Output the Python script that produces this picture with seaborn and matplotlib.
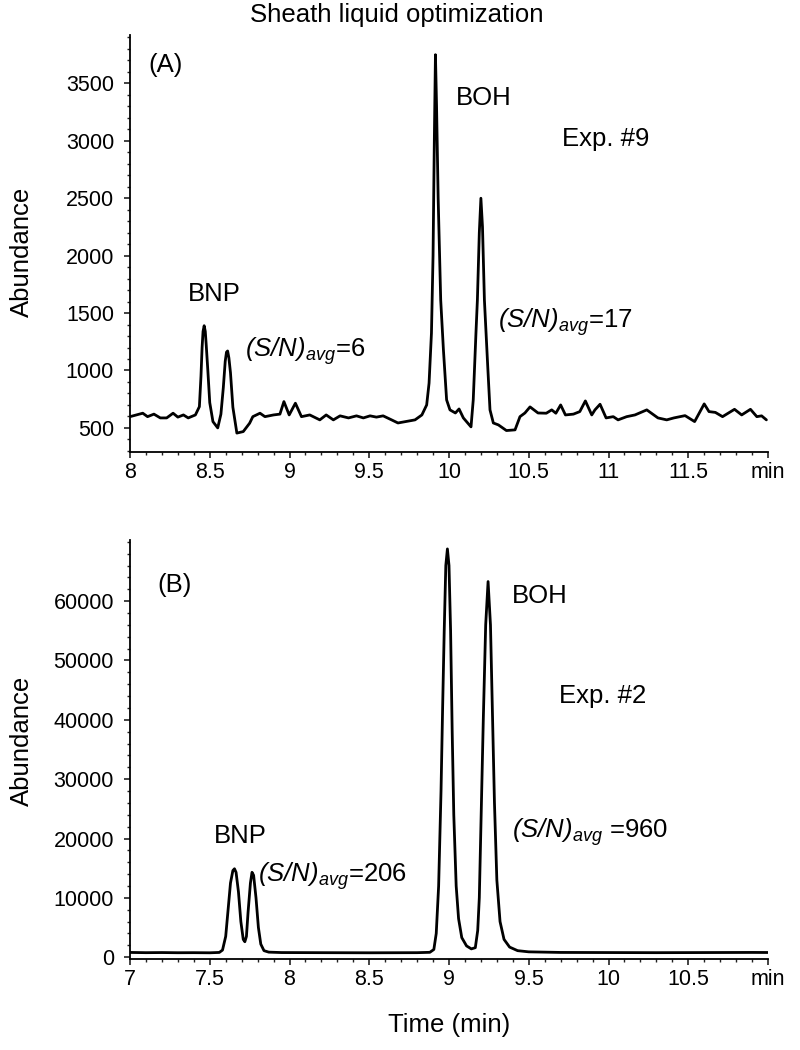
import matplotlib
matplotlib.use("Agg")
import matplotlib.pyplot as plt
import seaborn as sns
import pandas as pd
from matplotlib.ticker import MultipleLocator, FixedLocator, FixedFormatter

# ---- data ----
# (A) Exp. #9
time_a = [
    8.00, 8.04, 8.08, 8.11, 8.15, 8.19, 8.23, 8.27, 8.30, 8.335, 8.365, 8.41,
    8.435, 8.445, 8.452, 8.458, 8.465, 8.472, 8.478, 8.488, 8.50, 8.52, 8.55,
    8.57, 8.585, 8.597, 8.605, 8.612, 8.62, 8.63, 8.645, 8.67, 8.71, 8.75,
    8.77, 8.815, 8.846, 8.90, 8.94, 8.965, 8.998, 9.037, 9.075, 9.127, 9.19,
    9.23, 9.275, 9.317, 9.37, 9.42, 9.463, 9.505, 9.545, 9.587, 9.64, 9.68,
    9.787, 9.83, 9.86, 9.875, 9.89, 9.90, 9.908, 9.915, 9.922, 9.932, 9.948,
    9.965, 9.985, 10.006, 10.04, 10.063, 10.09, 10.138, 10.152, 10.169,
    10.178, 10.19, 10.20, 10.21, 10.222, 10.243, 10.257, 10.278, 10.31,
    10.36, 10.414, 10.445, 10.476, 10.508, 10.558, 10.61, 10.644, 10.67,
    10.70, 10.73, 10.78, 10.82, 10.855, 10.895, 10.915, 10.947, 10.985,
    11.03, 11.06, 11.114, 11.166, 11.24, 11.31, 11.365, 11.41, 11.48, 11.54,
    11.60, 11.63, 11.67, 11.715, 11.79, 11.835, 11.89, 11.93, 11.96, 11.99,
]
abund_a = [
    598, 613, 628, 598, 620, 587, 587, 628, 594, 613, 587, 613,
    685, 950, 1200, 1340, 1390, 1340, 1220, 1000, 720, 555, 500,
    620, 850, 1080, 1160, 1170, 1110, 980, 680, 455, 468, 541,
    598, 628, 598, 613, 620, 729, 613, 715, 598, 613, 570,
    613, 570, 605, 587, 605, 587, 605, 594, 605, 570, 543,
    570, 613, 700, 890, 1326, 2000, 3000, 3750, 3300, 2500, 1614,
    1180, 744, 657, 630, 665, 587, 509, 744, 1326,
    1614, 2200, 2500, 2250, 1614, 1031, 657, 543, 526,
    477, 483, 598, 630, 683, 630, 628, 657, 628,
    700, 613, 620, 642, 735, 613, 657, 706, 587,
    598, 570, 598, 613, 657, 587, 570, 587, 607, 555,
    709, 642, 635, 598, 662, 613, 662, 598, 605, 570,
]

# (B) Exp. #2
time_b = [
    7.00, 7.10, 7.20, 7.30, 7.40, 7.50, 7.56, 7.58, 7.60, 7.615, 7.63, 7.645,
    7.655, 7.665, 7.68, 7.695, 7.71, 7.72, 7.73, 7.74, 7.755, 7.765, 7.775,
    7.79, 7.805, 7.82, 7.84, 7.87, 7.95, 8.20, 8.50, 8.80, 8.88, 8.905,
    8.92, 8.935, 8.95, 8.96, 8.97, 8.98, 8.99, 9.00, 9.01, 9.02, 9.03,
    9.045, 9.06, 9.08, 9.11, 9.14, 9.165, 9.18, 9.19, 9.20, 9.215, 9.23,
    9.245, 9.26, 9.275, 9.285, 9.30, 9.32, 9.345, 9.38, 9.43, 9.50, 9.70,
    10.00, 10.30, 10.60, 10.90, 11.00,
]
abund_b = [
    800, 760, 780, 750, 760, 740, 800, 1200, 3500, 8000, 12500, 14600,
    14900, 14300, 11000, 6000, 3000, 2600, 3500, 7500, 12500, 14300, 13800,
    10000, 5000, 2200, 1100, 850, 780, 760, 740, 760, 820, 1300,
    4000, 12000, 28000, 42000, 55000, 66000, 68800, 66000, 55000, 38000, 24000,
    12000, 6500, 3300, 1900, 1400, 1600, 4500, 10000, 22000, 40000, 56000,
    63300, 56000, 38000, 26000, 13000, 6000, 3000, 1700, 1100, 900, 800,
    780, 760, 780, 800, 790,
]

# tick labels (last position carries the unit)
xticks_a = [8, 8.5, 9, 9.5, 10, 10.5, 11, 11.5, 12]
xlabels_a = ["8", "8.5", "9", "9.5", "10", "10.5", "11", "11.5", "min"]
yticks_a = [500, 1000, 1500, 2000, 2500, 3000, 3500]
xticks_b = [7, 7.5, 8, 8.5, 9, 9.5, 10, 10.5, 11]
xlabels_b = ["7", "7.5", "8", "8.5", "9", "9.5", "10", "10.5", "min"]
yticks_b = [0, 10000, 20000, 30000, 40000, 50000, 60000]

sns.set_style("ticks")
plt.rcParams["font.family"] = ["Liberation Sans", "DejaVu Sans"]
# math text is only used for the italic (S/N)_avg labels
plt.rcParams["mathtext.fontset"] = "custom"
plt.rcParams["mathtext.rm"] = "Liberation Sans:italic"
plt.rcParams["mathtext.it"] = "Liberation Sans:italic"
plt.rcParams["mathtext.sf"] = "Liberation Sans:italic"
for key in ("text.color", "axes.labelcolor", "xtick.color", "ytick.color",
            "axes.edgecolor"):
    plt.rcParams[key] = "black"

LABEL_FS = 18.5
TICK_FS = 15.5
SN = r"$(S/N)_{avg}$"

fig = plt.figure(figsize=(8, 10.5), dpi=100)
ax_a = fig.add_axes([0.1625, 0.5695, 0.7975, 0.397])
ax_b = fig.add_axes([0.1625, 0.0867, 0.7975, 0.399])


def style_axis(ax, xlim, ylim, xticks, xlabels, yticks, ymin_step):
    for side in ("top", "right"):
        ax.spines[side].set_visible(False)
    for side in ("left", "bottom"):
        ax.spines[side].set_linewidth(1.3)
    ax.set_xlim(*xlim)
    ax.set_ylim(*ylim)
    ax.xaxis.set_major_locator(FixedLocator(xticks))
    ax.xaxis.set_major_formatter(FixedFormatter(xlabels))
    ax.xaxis.set_minor_locator(MultipleLocator(0.1))
    ax.yaxis.set_major_locator(FixedLocator(yticks))
    ax.yaxis.set_minor_locator(MultipleLocator(ymin_step))
    ax.tick_params(which="major", length=4.5, width=1.2, labelsize=TICK_FS,
                   direction="out", color="#222222")
    ax.tick_params(which="minor", length=2.5, width=1.0, direction="out",
                   color="#222222")
    ax.tick_params(axis="x", which="major", pad=3)
    ax.tick_params(axis="y", which="major", pad=7)
    ax.set_xlabel("")
    ax.set_ylabel("Abundance", fontsize=LABEL_FS)


# ---- panel A ----
df_a = pd.DataFrame({"time": time_a, "abundance": abund_a})
sns.lineplot(data=df_a, x="time", y="abundance", ax=ax_a, color="black",
             lw=2.0, estimator=None, sort=False)
style_axis(ax_a, (8, 12), (290, 3920), xticks_a, xlabels_a, yticks_a, 100)
ax_a.yaxis.set_label_coords(-0.15, 0.48)

ax_a.text(8.113, 3658, "(A)", fontsize=LABEL_FS, ha="left", va="center")
ax_a.text(8.527, 1666, "BNP", fontsize=LABEL_FS, ha="center", va="center")
ax_a.text(8.721, 1120, SN + "=6", fontsize=LABEL_FS, ha="left", va="baseline")
ax_a.text(10.22, 3310, "BOH", fontsize=LABEL_FS, ha="center", va="baseline")
ax_a.text(10.708, 2953, "Exp. #9", fontsize=LABEL_FS, ha="left", va="baseline")
ax_a.text(10.307, 1370, SN + "=17", fontsize=LABEL_FS, ha="left", va="baseline")

# ---- panel B ----
df_b = pd.DataFrame({"time": time_b, "abundance": abund_b})
sns.lineplot(data=df_b, x="time", y="abundance", ax=ax_b, color="black",
             lw=2.0, estimator=None, sort=False)
style_axis(ax_b, (7, 11), (-300, 70300), xticks_b, xlabels_b, yticks_b, 2000)
ax_b.yaxis.set_label_coords(-0.15, 0.52)
ax_b.set_xlabel("Time (min)", fontsize=LABEL_FS)
ax_b.xaxis.set_label_coords(0.5, -0.128)
ax_b.xaxis.label.set_va("top")

ax_b.text(7.17, 62700, "(B)", fontsize=LABEL_FS, ha="left", va="center")
ax_b.text(7.69, 19200, "BNP", fontsize=LABEL_FS, ha="center", va="baseline")
ax_b.text(7.80, 12650, SN + "=206", fontsize=LABEL_FS, ha="left", va="baseline")
ax_b.text(9.394, 59700, "BOH", fontsize=LABEL_FS, ha="left", va="baseline")
ax_b.text(9.69, 42800, "Exp. #2", fontsize=LABEL_FS, ha="left", va="baseline")
ax_b.text(9.394, 20060, SN + " =960", fontsize=LABEL_FS, ha="left", va="baseline")

fig.text(397 / 800, 1 - 15 / 1050, "Sheath liquid optimization",
         fontsize=LABEL_FS, ha="center", va="center")

fig.savefig("out.png", dpi=100)
